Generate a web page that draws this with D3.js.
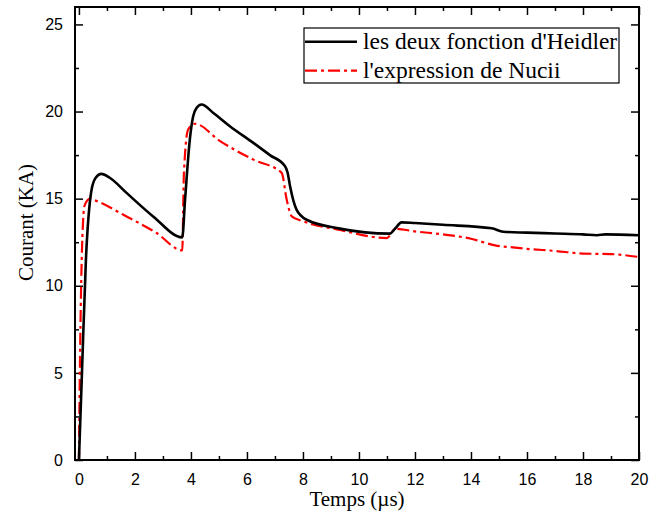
<!DOCTYPE html>
<html>
<head>
<meta charset="utf-8">
<script src="https://cdn.jsdelivr.net/npm/d3@7"></script>
<style>
  body { margin: 0; background: #fff; }
  svg { display: block; }
</style>
</head>
<body>
<script>
// courant (KA) en fonction du temps (µs)
const heidlerT = [0, 0.1, 0.25, 0.45, 0.6, 0.8, 1.1, 1.7, 2.65, 3.69,
  3.79, 3.96, 4.08, 4.2, 4.38, 4.8, 5.39, 6.23, 6.82, 7.36, 7.45, 7.54, 7.77, 8.13, 9.32,
  11.1, 11.3, 11.52, 12, 13, 14.74, 15.15, 16, 17, 18, 18.5, 18.8, 20];
const heidlerI = [0, 4.6, 11.5, 15.5, 16.2, 16.42, 16.2, 15.33, 13.98, 12.78,
  14.94, 18.39, 19.73, 20.2, 20.4, 19.92, 19.16, 18.2, 17.5, 16.86, 16.5, 15.71, 14.37, 13.79, 13.28,
  12.99, 13.3, 13.64, 13.6, 13.5, 13.3, 13.1, 13.05, 13.0, 12.95, 12.9, 12.95, 12.9];

const nuciiT = [0, 0.03, 0.1, 0.2, 0.4, 0.51, 1.7, 2.77, 3.69,
  3.75, 3.9, 4.14, 5.04, 6.23, 7.24, 7.42, 7.6, 8.01, 9.32,
  11, 11.3, 12, 13, 14, 14.86, 15.5, 16, 17, 18, 19, 20];
const nuciiI = [0, 4.6, 11.5, 14.6, 15.0, 14.94, 13.98, 13.03, 12.03,
  16.48, 18.97, 19.3, 18.3, 17.24, 16.48, 14.94, 13.98, 13.7, 13.2,
  12.74, 13.27, 13.12, 12.95, 12.7, 12.32, 12.2, 12.12, 12.0, 11.85, 11.82, 11.65];

const legendLabels = ["les deux fonction d'Heidler", "l'expression de Nucii"];
const xTicks = [0, 2, 4, 6, 8, 10, 12, 14, 16, 18, 20];
const yTicks = [0, 5, 10, 15, 20, 25];

const width = 651, height = 515;
const m = {left: 75, right: 12, top: 7, bottom: 55};

const svg = d3.select('body').append('svg')
  .attr('width', width)
  .attr('height', height);

const x = d3.scaleLinear().domain([-0.14, 20]).range([m.left, width - m.right]);
const y = d3.scaleLinear().domain([0, 26]).range([height - m.bottom, m.top]);

const tickFont = 'Liberation Sans, Arial, sans-serif';
const serif = 'Liberation Serif, Times New Roman, serif';

function styleAxis(g, showLabels) {
  g.select('.domain').remove();
  g.selectAll('line').attr('stroke', '#000').attr('stroke-width', 1.5);
  g.selectAll('text')
    .attr('font-family', tickFont)
    .attr('font-size', 16)
    .attr('fill', '#000')
    .style('display', showLabels ? null : 'none');
}

// bas
svg.append('g').attr('transform', `translate(0,${y(0)})`)
  .call(d3.axisBottom(x).tickValues(d3.range(1, 20, 2)).tickSize(-4).tickFormat(''))
  .call(g => styleAxis(g, false));
svg.append('g').attr('transform', `translate(0,${y(0)})`)
  .call(d3.axisBottom(x).tickValues(xTicks).tickSize(-8).tickPadding(14).tickFormat(d3.format('d')))
  .call(g => styleAxis(g, true));
// haut
svg.append('g').attr('transform', `translate(0,${y(26)})`)
  .call(d3.axisTop(x).tickValues(d3.range(1, 20, 2)).tickSize(-4).tickFormat(''))
  .call(g => styleAxis(g, false));
svg.append('g').attr('transform', `translate(0,${y(26)})`)
  .call(d3.axisTop(x).tickValues(xTicks).tickSize(-8).tickFormat(''))
  .call(g => styleAxis(g, false));
// gauche
svg.append('g').attr('transform', `translate(${x(-0.14)},0)`)
  .call(d3.axisLeft(y).tickValues([2.5, 7.5, 12.5, 17.5, 22.5]).tickSize(-4).tickFormat(''))
  .call(g => styleAxis(g, false));
svg.append('g').attr('transform', `translate(${x(-0.14)},0)`)
  .call(d3.axisLeft(y).tickValues(yTicks).tickSize(-8).tickPadding(12).tickFormat(d3.format('d')))
  .call(g => styleAxis(g, true));
// droite
svg.append('g').attr('transform', `translate(${x(20)},0)`)
  .call(d3.axisRight(y).tickValues([2.5, 7.5, 12.5, 17.5, 22.5]).tickSize(-4).tickFormat(''))
  .call(g => styleAxis(g, false));
svg.append('g').attr('transform', `translate(${x(20)},0)`)
  .call(d3.axisRight(y).tickValues(yTicks).tickSize(-8).tickFormat(''))
  .call(g => styleAxis(g, false));

// cadre
svg.append('rect')
  .attr('x', x(-0.14)).attr('y', y(26))
  .attr('width', x(20) - x(-0.14)).attr('height', y(0) - y(26))
  .attr('fill', 'none').attr('stroke', '#000').attr('stroke-width', 2);

const line = d3.line()
  .x(d => x(d[0]))
  .y(d => y(d[1]))
  .curve(d3.curveMonotoneX);

svg.append('path')
  .datum(nuciiT.map((t, i) => [t, nuciiI[i]]))
  .attr('d', line)
  .attr('fill', 'none')
  .attr('stroke', '#f00')
  .attr('stroke-width', 2.2)
  .attr('stroke-dasharray', '12,4,3,4');

svg.append('path')
  .datum(heidlerT.map((t, i) => [t, heidlerI[i]]))
  .attr('d', line)
  .attr('fill', 'none')
  .attr('stroke', '#000')
  .attr('stroke-width', 2.6);

// titres
svg.append('text')
  .attr('x', (x(-0.14) + x(20)) / 2).attr('y', 506)
  .attr('text-anchor', 'middle')
  .attr('font-family', serif).attr('font-size', 21)
  .text('Temps (µs)');

svg.append('text')
  .attr('transform', `translate(33,${(y(0) + y(26)) / 2 - 11}) rotate(-90)`)
  .attr('text-anchor', 'middle')
  .attr('font-family', serif).attr('font-size', 21)
  .text('Courant (KA)');

// légende
const leg = svg.append('g');
leg.append('rect')
  .attr('x', 304).attr('y', 28).attr('width', 315).attr('height', 55)
  .attr('fill', '#fff').attr('stroke', '#000').attr('stroke-width', 1.2);

const legStyles = [
  {stroke: '#000', width: 2.6, dash: null},
  {stroke: '#f00', width: 2.2, dash: '12,4,3,4'}
];
legendLabels.forEach((lab, i) => {
  const cy = 41.7 + i * 29;
  leg.append('line')
    .attr('x1', 305).attr('x2', 357).attr('y1', cy).attr('y2', cy)
    .attr('stroke', legStyles[i].stroke)
    .attr('stroke-width', legStyles[i].width)
    .attr('stroke-dasharray', legStyles[i].dash);
  leg.append('text')
    .attr('x', 363).attr('y', cy + 7.6)
    .attr('font-family', serif).attr('font-size', 23.5)
    .text(lab);
});
</script>
</body>
</html>
